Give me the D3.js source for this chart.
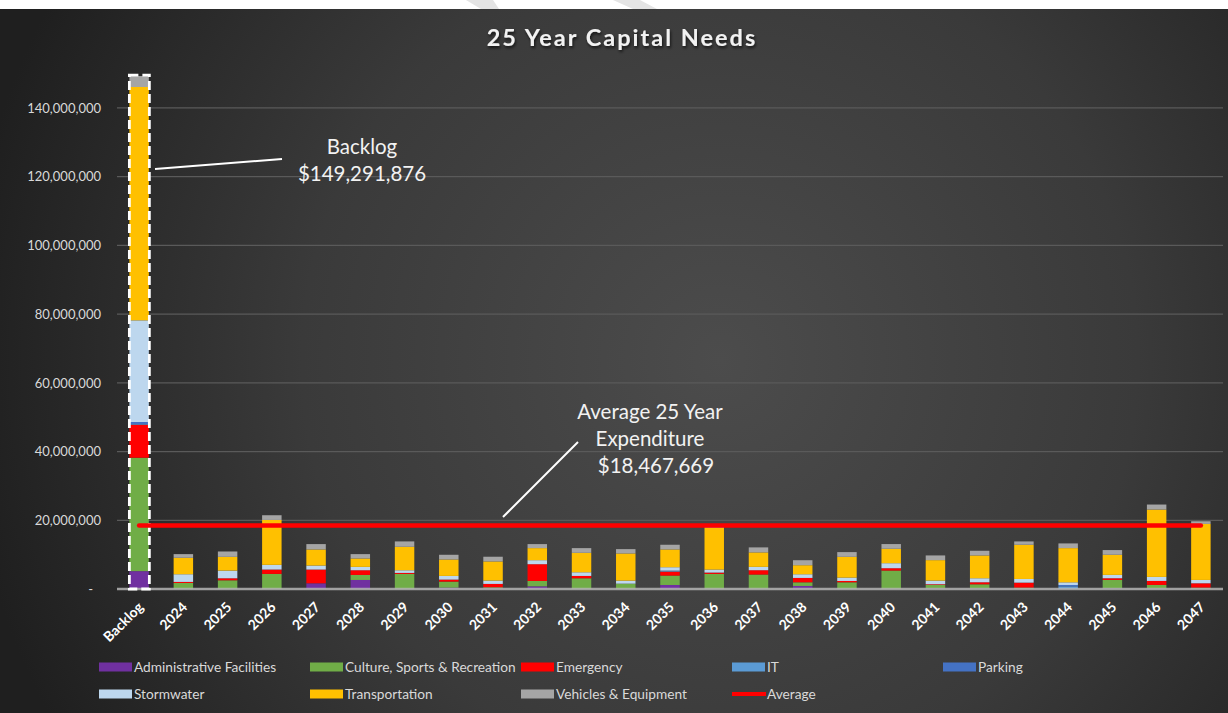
<!DOCTYPE html>
<html>
<head>
<meta charset="utf-8">
<script src="https://cdn.jsdelivr.net/npm/d3@7"></script>
<style>
  html, body { margin: 0; padding: 0; background: #ffffff; }
  svg { display: block; }
  text { font-family: Lato, "Open Sans", "DejaVu Sans", sans-serif; }
</style>
</head>
<body>
<svg id="chart" width="1228" height="713"></svg>
<script>
// ---- Data (dollars) ----
const categories = ["Backlog", "2024", "2025", "2026", "2027", "2028", "2029", "2030", "2031", "2032",
  "2033", "2034", "2035", "2036", "2037", "2038", "2039", "2040", "2041", "2042", "2043", "2044",
  "2045", "2046", "2047"];

const seriesNames = ["Administrative Facilities", "Culture, Sports & Recreation", "Emergency", "IT",
  "Parking", "Stormwater", "Transportation", "Vehicles & Equipment"];

const administrativeFacilities = [5200000, 0, 0, 0, 1660000, 2630000, 0, 390000, 200000, 780000,
  0, 0, 1170000, 0, 0, 880000, 0, 0, 200000, 200000, 0, 0, 200000, 200000, 0];
const cultureSportsRecreation = [33000000, 1760000, 2540000, 4390000, 0, 1460000, 4390000, 1760000, 300000, 1560000,
  3120000, 1560000, 2730000, 4390000, 4200000, 1070000, 1950000, 5370000, 980000, 1170000, 390000, 0,
  2440000, 980000, 390000];
const emergency = [9600000, 300000, 580000, 1270000, 4000000, 1370000, 290000, 590000, 980000, 4880000,
  680000, 0, 1170000, 390000, 1270000, 1270000, 390000, 680000, 200000, 590000, 1460000, 0,
  490000, 1170000, 1270000];
const it = [200000, 0, 0, 0, 0, 0, 0, 0, 0, 0,
  0, 0, 300000, 0, 0, 0, 0, 0, 0, 0, 0, 780000,
  0, 0, 0];
const parking = [600000, 0, 0, 0, 0, 0, 0, 0, 0, 0,
  0, 0, 0, 0, 0, 0, 0, 0, 0, 0, 0, 390000,
  0, 0, 0];
const stormwater = [29600000, 2240000, 2240000, 1370000, 1170000, 980000, 780000, 1070000, 980000, 1170000,
  1070000, 880000, 970000, 880000, 980000, 1070000, 980000, 1460000, 1070000, 1170000, 1070000, 780000,
  980000, 1170000, 980000];
const transportation = [67900000, 4780000, 4000000, 13070000, 4680000, 2440000, 6830000, 4780000, 5560000, 3510000,
  5660000, 7900000, 5170000, 12100000, 4200000, 2630000, 6050000, 4200000, 5950000, 6630000, 9950000, 9950000,
  5850000, 19600000, 16300000];
const vehiclesEquipment = [3190000, 1070000, 1560000, 1370000, 1560000, 1270000, 1560000, 1370000, 1370000, 1170000,
  1370000, 1270000, 1370000, 900000, 1460000, 1460000, 1370000, 1370000, 1370000, 1370000, 980000, 1370000,
  1370000, 1460000, 780000];

const averageExpenditure = 18467669;
const backlogTotal = 149291876;
const yTicks = [0, 20000000, 40000000, 60000000, 80000000, 100000000, 120000000, 140000000];

// ---- Styles ----
const seriesColors = ["#7030A0", "#70AD47", "#FF0000", "#5B9BD5", "#4472C4", "#BDD7EE", "#FFC000", "#A5A5A5"];

const seriesValues = [administrativeFacilities, cultureSportsRecreation, emergency, it, parking,
  stormwater, transportation, vehiclesEquipment];

const rows = categories.map((c, i) => {
  const r = { category: c };
  seriesNames.forEach((s, k) => { r[s] = seriesValues[k][i]; });
  return r;
});

const W = 1228, H = 713;
const svg = d3.select("#chart");
const defs = svg.append("defs");

// background
const grad = defs.append("radialGradient").attr("id", "bg")
  .attr("gradientUnits", "userSpaceOnUse")
  .attr("cx", 720).attr("cy", 360).attr("r", 760);
grad.append("stop").attr("offset", "0%").attr("stop-color", "#4c4c4c");
grad.append("stop").attr("offset", "55%").attr("stop-color", "#3a3a3a");
grad.append("stop").attr("offset", "100%").attr("stop-color", "#1f1f1f");

const shadow = defs.append("filter").attr("id", "shadow")
  .attr("x", "-10%").attr("y", "-30%").attr("width", "120%").attr("height", "160%");
shadow.append("feDropShadow").attr("dx", 1).attr("dy", 2).attr("stdDeviation", 1.6)
  .attr("flood-color", "#000").attr("flood-opacity", 0.7);

svg.append("rect").attr("width", W).attr("height", H).attr("fill", "#ffffff");
svg.append("polygon").attr("points", "466,0 493,0 499,9 481,9").attr("fill", "#e4e4e4");
svg.append("polygon").attr("points", "613,0 640,0 657,9 633,9").attr("fill", "#e4e4e4");
svg.append("rect").attr("x", 0).attr("y", 9).attr("width", W).attr("height", H - 9).attr("fill", "url(#bg)");

// scales
const x = d3.scaleBand().domain(categories).range([117, 1223]).paddingInner(0.56).paddingOuter(0.28);
const y = d3.scaleLinear().domain([0, 150000000]).range([589, 73.6]);

// gridlines
svg.append("g").selectAll("line").data(yTicks.filter(d => d > 0)).join("line")
  .attr("x1", 117).attr("x2", 1223)
  .attr("y1", d => y(d)).attr("y2", d => y(d))
  .attr("stroke", "#5a5a5a").attr("stroke-width", 1.2);

// y axis
const fmt = d3.format(",");
const yAxis = svg.append("g").attr("transform", "translate(104,0)")
  .call(d3.axisLeft(y).tickValues(yTicks).tickSize(0).tickPadding(3)
    .tickFormat(d => d === 0 ? "-" : fmt(d)));
yAxis.select(".domain").remove();
yAxis.selectAll("text").attr("fill", "#d9d9d9").style("font-size", "13px")
  .attr("dx", d => d === 0 ? -8 : 0);

// stacked bars
const stacked = d3.stack().keys(seriesNames)(rows);
svg.append("g").selectAll("g").data(stacked).join("g")
  .attr("fill", (d, i) => seriesColors[i])
  .selectAll("rect").data(d => d).join("rect")
  .attr("x", d => x(d.data.category))
  .attr("width", x.bandwidth())
  .attr("y", d => y(d[1]))
  .attr("height", d => Math.max(0, y(d[0]) - y(d[1])));

// baseline
svg.append("line").attr("x1", 117).attr("x2", 1223).attr("y1", 589).attr("y2", 589)
  .attr("stroke", "#b4b4b4").attr("stroke-width", 2.5).attr("opacity", 0.85);

// dashed outline around backlog bar
const bx = x(categories[0]);
svg.append("rect")
  .attr("x", bx).attr("y", y(backlogTotal) - 1)
  .attr("width", x.bandwidth() + 0.5).attr("height", 589 - y(backlogTotal) + 1)
  .attr("fill", "none").attr("stroke", "#ffffff").attr("stroke-width", 2.8)
  .attr("stroke-dasharray", "9,4");

// x axis labels
const xAxis = svg.append("g").attr("transform", "translate(0,589)")
  .call(d3.axisBottom(x).tickSize(0));
xAxis.select(".domain").remove();
xAxis.selectAll("text")
  .attr("fill", "#ffffff").style("font-size", "14px").style("font-weight", "bold")
  .attr("text-anchor", "end").attr("y", 0).attr("dy", 0)
  .attr("transform", "translate(5,19) rotate(-45)");

// average line
const half = x.bandwidth() / 2;
svg.append("line")
  .attr("x1", x(categories[0]) + half).attr("x2", x(categories[categories.length - 1]) + half)
  .attr("y1", y(averageExpenditure)).attr("y2", y(averageExpenditure))
  .attr("stroke", "#ff0000").attr("stroke-width", 4.5).attr("stroke-linecap", "round");

// annotations
const ann = svg.append("g").attr("fill", "#f2f2f2").style("font-size", "20.5px").attr("text-anchor", "middle");
svg.append("line").attr("x1", 155).attr("y1", 169).attr("x2", 282).attr("y2", 159)
  .attr("stroke", "#ffffff").attr("stroke-width", 2);
ann.append("text").attr("x", 362).attr("y", 154).text("Backlog");
ann.append("text").attr("x", 362).attr("y", 181).text("$" + fmt(backlogTotal));

svg.append("line").attr("x1", 503).attr("y1", 517).attr("x2", 578).attr("y2", 442)
  .attr("stroke", "#ffffff").attr("stroke-width", 2);
ann.append("text").attr("x", 650).attr("y", 419).text("Average 25 Year");
ann.append("text").attr("x", 650).attr("y", 446).text("Expenditure");
ann.append("text").attr("x", 656).attr("y", 473).text("$" + fmt(averageExpenditure));

// title
svg.append("text").attr("x", 622).attr("y", 46).attr("text-anchor", "middle")
  .attr("fill", "#f2f2f2").style("font-size", "23.5px").style("font-weight", "bold")
  .style("letter-spacing", "2px").attr("filter", "url(#shadow)")
  .text("25 Year Capital Needs");

// legend
const legendItems = [
  ...seriesNames.map((s, i) => ({ name: s, color: seriesColors[i], kind: "rect" })),
  { name: "Average", color: "#ff0000", kind: "line" }
];
// order across rows: Admin, Culture, Emergency, IT, Parking / Stormwater, Transportation, Vehicles, Average
const legendSlots = [[0, 0], [1, 0], [2, 0], [3, 0], [4, 0], [0, 1], [1, 1], [2, 1], [3, 1]];
const legend = svg.append("g");
legendItems.forEach((item, i) => {
  const [col, row] = legendSlots[i];
  const lx = 99 + col * 211, ly = 667 + row * 27;
  const g = legend.append("g").attr("transform", `translate(${lx},${ly})`);
  if (item.kind === "rect") {
    g.append("rect").attr("x", 0).attr("y", -4.5).attr("width", 33).attr("height", 9).attr("fill", item.color);
  } else {
    g.append("line").attr("x1", 0).attr("x2", 34).attr("y1", 0).attr("y2", 0)
      .attr("stroke", item.color).attr("stroke-width", 4);
  }
  g.append("text").attr("x", 35).attr("y", 0).attr("dy", "0.35em")
    .attr("fill", "#d9d9d9").style("font-size", "13.7px").text(item.name);
});
</script>
</body>
</html>
